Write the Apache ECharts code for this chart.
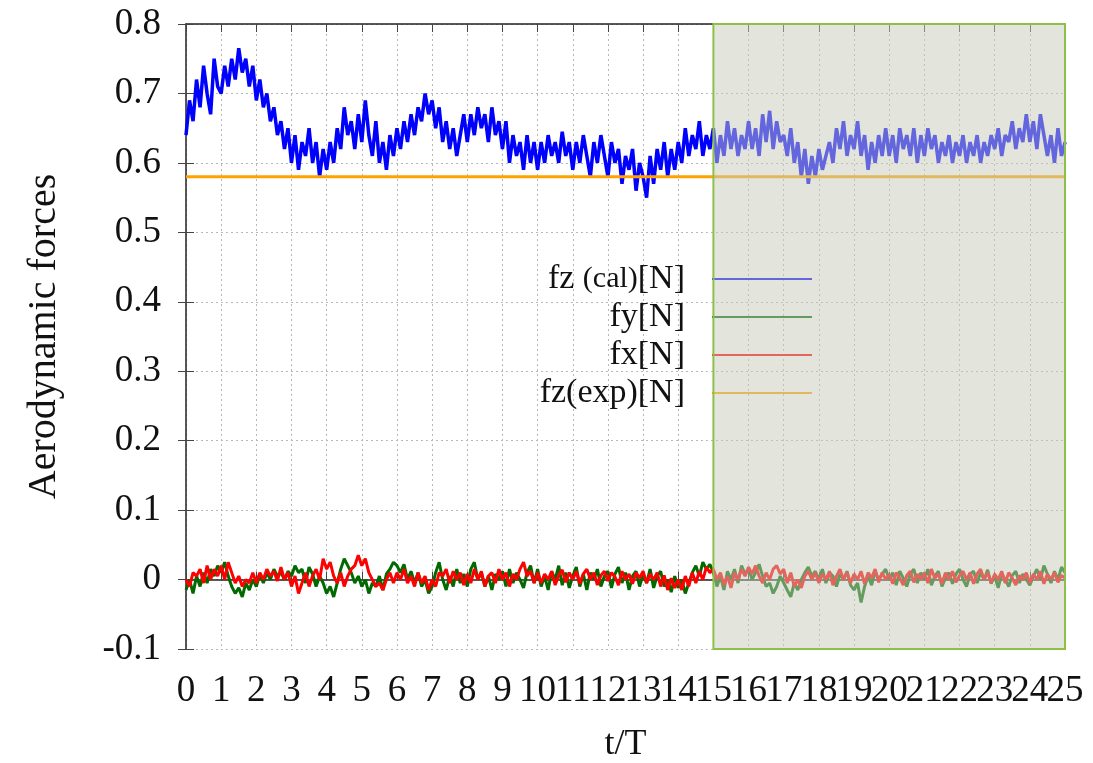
<!DOCTYPE html>
<html>
<head>
<meta charset="utf-8">
<script src="https://cdn.jsdelivr.net/npm/echarts@6/dist/echarts.min.js"></script>
<style>
  html, body { margin: 0; padding: 0; background: #fff; }
  #chart { width: 1093px; height: 763px; }
</style>
</head>
<body>
<div id="chart"></div>
<script>
// sampling step of the records (t/T)
var dt = 0.1

var xTicks = [0, 1, 2, 3, 4, 5, 6, 7, 8, 9, 10, 11, 12, 13, 14, 15, 16, 17, 18, 19, 20, 21, 22, 23, 24, 25]
var yTicks = [-0.1, 0, 0.1, 0.2, 0.3, 0.4, 0.5, 0.6, 0.7, 0.8]

// fz (cal) [N]
var fzCal = [
  0.64, 0.69, 0.66, 0.72, 0.68, 0.74, 0.70, 0.67, 0.75, 0.71,
  0.70, 0.74, 0.71, 0.75, 0.72, 0.765, 0.73, 0.75, 0.71, 0.74,
  0.69, 0.72, 0.68, 0.70, 0.66, 0.68, 0.64, 0.66, 0.62, 0.65,
  0.60, 0.64, 0.59, 0.63, 0.61, 0.65, 0.60, 0.63, 0.58, 0.62,
  0.59, 0.63, 0.60, 0.65, 0.62, 0.68, 0.64, 0.66, 0.62, 0.67,
  0.63, 0.69, 0.64, 0.61, 0.66, 0.60, 0.63, 0.59, 0.64, 0.61,
  0.65, 0.62, 0.66, 0.63, 0.67, 0.64, 0.68, 0.66, 0.70, 0.67,
  0.69, 0.65, 0.68, 0.63, 0.66, 0.62, 0.65, 0.61, 0.64, 0.67,
  0.63, 0.67, 0.64, 0.68, 0.65, 0.67, 0.63, 0.68, 0.64, 0.66,
  0.62, 0.66, 0.60, 0.64, 0.61, 0.63, 0.59, 0.64, 0.60, 0.63,
  0.59, 0.63, 0.60, 0.64, 0.61, 0.63, 0.60, 0.645, 0.61, 0.63,
  0.59, 0.63, 0.60, 0.64, 0.61, 0.58, 0.63, 0.60, 0.64, 0.61,
  0.58, 0.63, 0.60, 0.62, 0.57, 0.61, 0.59, 0.62, 0.56, 0.60,
  0.58, 0.55, 0.61, 0.57, 0.62, 0.59, 0.63, 0.58, 0.62, 0.59,
  0.63, 0.60, 0.65, 0.61, 0.64, 0.62, 0.66, 0.61, 0.64, 0.62,
  0.65, 0.60, 0.64, 0.61, 0.66, 0.62, 0.65, 0.61, 0.64, 0.62,
  0.66, 0.62, 0.65, 0.61, 0.67, 0.63, 0.675, 0.62, 0.66, 0.63,
  0.64, 0.61, 0.65, 0.60, 0.63, 0.58, 0.62, 0.57, 0.61, 0.58,
  0.62, 0.59, 0.61, 0.63, 0.60, 0.65, 0.62, 0.66, 0.61, 0.64,
  0.62, 0.66, 0.61, 0.64, 0.59, 0.63, 0.60, 0.64, 0.61, 0.65,
  0.61, 0.64, 0.60, 0.65, 0.62, 0.64, 0.61, 0.65, 0.60, 0.64,
  0.61, 0.65, 0.62, 0.64, 0.60, 0.63, 0.61, 0.64, 0.60, 0.63,
  0.61, 0.64, 0.60, 0.63, 0.61, 0.64, 0.60, 0.63, 0.61, 0.64,
  0.62, 0.65, 0.61, 0.64, 0.63, 0.66, 0.62, 0.65, 0.63, 0.67,
  0.63, 0.66, 0.62, 0.67, 0.64, 0.61, 0.64, 0.60, 0.65, 0.61,
  0.63,
]

// fy [N]
var fy = [
  -0.015, 0.0, -0.02, 0.005, -0.01, 0.01, -0.005, 0.015, 0.005, 0.02,
  0.01, 0.025, 0.005, -0.01, -0.02, -0.012, -0.025, -0.005, -0.015, 0.0,
  -0.01, 0.008, -0.005, 0.01, 0.0, 0.015, 0.005, 0.01, 0.0, 0.012,
  0.005, 0.02, 0.01, 0.015, -0.005, 0.018, 0.008, -0.01, 0.005, -0.005,
  -0.02, -0.01, -0.025, -0.005, 0.015, 0.03, 0.02, 0.01, -0.005, 0.005,
  -0.01, 0.0, -0.02, -0.005, -0.01, 0.005, -0.015, 0.008, 0.015, 0.025,
  0.02, 0.01, 0.022, 0.0, 0.012, -0.005, 0.01, -0.01, 0.0, -0.02,
  -0.01, 0.01, 0.025, 0.0, -0.015, 0.005, -0.01, 0.015, -0.005, 0.008,
  -0.01, 0.015, 0.025, 0.0, 0.01, -0.01, 0.005, -0.015, 0.008, 0.0,
  0.012, -0.01, 0.015, -0.005, 0.01, 0.0, -0.012, 0.01, 0.02, -0.005,
  0.015, -0.01, 0.005, -0.015, 0.012, 0.0, 0.02, -0.008, 0.01, -0.012,
  0.005, 0.018, -0.01, 0.008, -0.015, 0.01, 0.0, 0.015, -0.01, 0.005,
  0.012, -0.012, 0.008, 0.018, -0.005, 0.01, -0.015, 0.005, 0.012, -0.01,
  0.008, -0.005, 0.015, -0.012, 0.005, 0.012, -0.01, 0.0, -0.018, 0.005,
  -0.012, 0.0, -0.02, -0.005, 0.01, 0.02, 0.005, 0.025, 0.015, 0.022,
  0.01, -0.01, 0.005, -0.015, 0.012, 0.0, 0.015, -0.005, 0.02, 0.008,
  0.015, 0.0, 0.01, 0.022, 0.005, -0.01, -0.005, -0.02, -0.01, 0.005,
  -0.005, -0.015, -0.025, -0.005, -0.015, 0.0, 0.01, 0.018, 0.005, 0.012,
  0.0, 0.015, -0.005, 0.01, 0.005, -0.01, 0.008, 0.0, 0.012, -0.008,
  -0.015, -0.005, -0.033, -0.01, 0.005, -0.008, 0.012, 0.0, 0.008, 0.015,
  0.0, 0.01, -0.008, 0.012, 0.002, -0.01, 0.008, 0.015, -0.005, 0.01,
  0.0, 0.015, -0.008, 0.005, 0.012, -0.01, 0.002, 0.01, -0.006, 0.008,
  0.015, 0.0, -0.01, 0.008, 0.012, -0.005, 0.01, 0.0, 0.014, -0.006,
  0.005, -0.012, 0.008, 0.0, -0.01, 0.006, 0.012, -0.005, 0.008, 0.0,
  -0.008, 0.005, 0.015, 0.0, 0.02, 0.008, -0.005, 0.012, 0.0, 0.018,
  0.01,
]

// fx [N]
var fx = [
  0.0, -0.01, 0.01, 0.005, 0.015, -0.005, 0.02, 0.0, 0.015, 0.005,
  0.02, 0.0, 0.025, 0.01, -0.005, 0.005, -0.01, 0.0, -0.005, 0.01,
  -0.005, 0.01, 0.0, 0.015, 0.005, 0.012, -0.002, 0.018, 0.0, 0.01,
  -0.01, 0.005, -0.02, -0.005, 0.01, -0.01, 0.005, 0.015, 0.0, 0.03,
  0.015, 0.025, 0.005, -0.005, 0.01, -0.01, 0.005, 0.015, 0.02, 0.035,
  0.02, 0.03, 0.01, 0.0, -0.01, -0.005, -0.015, 0.0, 0.01, -0.005,
  0.01, 0.0, 0.015, -0.005, 0.005, -0.01, 0.01, -0.005, 0.005, -0.015,
  0.0, -0.01, 0.01, 0.005, 0.015, -0.005, 0.012, 0.0, 0.01, -0.008,
  0.008, -0.005, 0.015, 0.0, 0.012, -0.01, 0.005, 0.01, -0.005, 0.015,
  0.0, 0.01, -0.01, 0.008, 0.0, 0.015, 0.025, 0.005, 0.012, -0.005,
  0.01, -0.005, 0.008, 0.0, 0.012, -0.008, 0.006, 0.014, -0.004, 0.01,
  0.0, 0.012, -0.006, 0.008, 0.015, 0.0, 0.01, -0.008, 0.006, 0.012,
  -0.002, 0.01, 0.004, -0.008, 0.012, 0.0, 0.008, -0.006, 0.01, 0.002,
  0.012, -0.005, 0.008, 0.0, 0.01, -0.01, 0.006, -0.015, 0.002, -0.012,
  0.0, -0.015, 0.005, -0.01, 0.01, -0.005, 0.012, 0.0, 0.018, 0.01,
  0.015, 0.0, 0.01, -0.008, 0.005, -0.012, 0.01, 0.0, 0.015, 0.005,
  0.018, 0.008, 0.02, 0.005, -0.005, 0.01, 0.0, 0.015, 0.02, 0.008,
  0.015, -0.005, 0.01, -0.01, 0.0, -0.012, 0.005, 0.012, 0.0, 0.01,
  -0.005, 0.008, 0.0, 0.012, -0.008, 0.005, 0.015, 0.0, 0.01, -0.005,
  0.008, 0.0, 0.012, -0.006, 0.01, 0.002, 0.015, -0.004, 0.01, 0.0,
  0.008, -0.006, 0.01, 0.002, -0.008, 0.006, 0.012, -0.004, 0.008, 0.0,
  0.01, -0.005, 0.015, 0.002, 0.008, -0.006, 0.01, 0.0, 0.012, -0.004,
  0.006, 0.012, 0.0, 0.01, -0.006, 0.008, 0.015, 0.0, 0.01, -0.005,
  0.008, 0.0, 0.012, -0.005, 0.01, 0.002, -0.008, 0.006, 0.0, 0.01,
  -0.005, 0.008, 0.0, 0.012, -0.006, 0.008, 0.0, 0.01, -0.004, 0.006,
  0.002,
]

// fz (exp) [N], measured value, flat over the whole run
var fzExpT = [0, 25]
var fzExp = [0.58, 0.58]

// shaded part of the run
var shadeFrom = 15
var shadeTo = 25

function pairs(values) {
  return values.map(function (v, i) {
    return [+(i * dt).toFixed(1), v]
  })
}

var font = 'Liberation Serif'
var chart = echarts.init(document.getElementById('chart'))

var gridLine = {
  show: true,
  lineStyle: { color: '#b8b8b8', type: [2, 3], width: 1 },
}

var xMin = xTicks[0]
var xMax = xTicks[xTicks.length - 1]

// the tick labels are wider than one step, so even and odd ones
// go on two axes, otherwise echarts drops the crowded ones
function tickLabel(parity) {
  return {
    fontFamily: font,
    fontSize: 37,
    color: '#111',
    margin: 24,
    hideOverlap: false,
    formatter: function (v) {
      return Math.round(v) % 2 === parity ? String(Math.round(v)) : ''
    },
  }
}

chart.setOption({
  animation: false,
  backgroundColor: '#fff',
  grid: { left: 186, right: 28, top: 24, bottom: 114, outerBoundsMode: 'none', containLabel: false },
  legend: {
    data: ['fz (cal)[N]', 'fy[N]', 'fx[N]', 'fz(exp)[N]'],
    orient: 'vertical',
    align: 'right',
    right: 276,
    top: 257,
    icon: 'rect',
    itemWidth: 100,
    itemHeight: 2,
    itemGap: 4,
    z: 1,
    formatter: function (name) {
      if (name === 'fz (cal)[N]') {
        return '{a|fz }{s|(cal)}{a|[N]}'
      }
      return name
    },
    textStyle: {
      fontFamily: font,
      fontSize: 34,
      lineHeight: 34,
      color: '#111',
      padding: [0, 22, 0, 0],
      rich: {
        a: { fontFamily: font, fontSize: 34, lineHeight: 34, color: '#111' },
        s: { fontFamily: font, fontSize: 30, lineHeight: 34, color: '#111' },
      },
    },
  },
  xAxis: [
    {
      type: 'value',
      min: xMin,
      max: xMax,
      interval: 1,
      name: 't/T',
      nameLocation: 'middle',
      nameGap: 78,
      nameTextStyle: { fontFamily: font, fontSize: 36, color: '#111' },
      axisLine: { lineStyle: { color: '#222', width: 1.5 } },
      axisTick: { inside: true, length: 8, lineStyle: { color: '#444' } },
      axisLabel: tickLabel(0),
      splitLine: gridLine,
    },
    {
      type: 'value',
      position: 'bottom',
      min: xMin,
      max: xMax,
      interval: 1,
      axisLine: { show: false },
      axisTick: { show: false },
      axisLabel: tickLabel(1),
      splitLine: { show: false },
    },
    {
      type: 'value',
      position: 'top',
      min: xMin,
      max: xMax,
      interval: 1,
      axisLine: { lineStyle: { color: '#222', width: 1.5 } },
      axisTick: { inside: true, length: 8, lineStyle: { color: '#444' } },
      axisLabel: { show: false },
      splitLine: { show: false },
    },
  ],
  yAxis: [
    {
      type: 'value',
      min: yTicks[0],
      max: yTicks[yTicks.length - 1],
      interval: 0.1,
      name: 'Aerodynamic forces',
      nameLocation: 'middle',
      nameGap: 122,
      nameTextStyle: { fontFamily: font, fontSize: 40, color: '#111' },
      axisLine: { show: true, lineStyle: { color: '#222', width: 1.5 } },
      axisTick: { show: true, inside: true, length: 8, lineStyle: { color: '#444' } },
      axisLabel: {
        fontFamily: font,
        fontSize: 37,
        color: '#111',
        margin: 25,
        formatter: function (v) {
          return String(+v.toFixed(1))
        },
      },
      splitLine: gridLine,
    },
    {
      type: 'value',
      position: 'right',
      min: yTicks[0],
      max: yTicks[yTicks.length - 1],
      interval: 0.1,
      axisLine: { show: false },
      axisTick: { show: true, inside: true, length: 8, lineStyle: { color: '#444' } },
      axisLabel: { show: false },
      splitLine: { show: false },
    },
  ],
  series: [
    {
      name: 'fz (cal)[N]',
      type: 'line',
      data: pairs(fzCal),
      symbol: 'none',
      lineStyle: { color: '#0000ff', width: 3.5 },
      itemStyle: { color: '#0000ff' },
    },
    {
      name: 'fy[N]',
      type: 'line',
      data: pairs(fy),
      symbol: 'none',
      lineStyle: { color: '#006a00', width: 3 },
      itemStyle: { color: '#006a00' },
    },
    {
      name: 'fx[N]',
      type: 'line',
      data: pairs(fx),
      symbol: 'none',
      lineStyle: { color: '#ff0000', width: 3 },
      itemStyle: { color: '#ff0000' },
    },
    {
      name: 'fz(exp)[N]',
      type: 'line',
      data: fzExpT.map(function (t, i) { return [t, fzExp[i]] }),
      symbol: 'none',
      lineStyle: { color: '#ffa200', width: 3 },
      itemStyle: { color: '#ffa200' },
    },
    {
      // translucent box over the last part of the run
      name: 'shade',
      type: 'line',
      data: [],
      z: 10,
      markArea: {
        silent: true,
        z: 10,
        itemStyle: {
          color: 'rgba(200, 203, 188, 0.5)',
          borderColor: '#8dc04a',
          borderWidth: 2,
        },
        data: [[
          { xAxis: shadeFrom, yAxis: yTicks[0] },
          { xAxis: shadeTo, yAxis: yTicks[yTicks.length - 1] },
        ]],
      },
    },
  ],
})
</script>
</body>
</html>
